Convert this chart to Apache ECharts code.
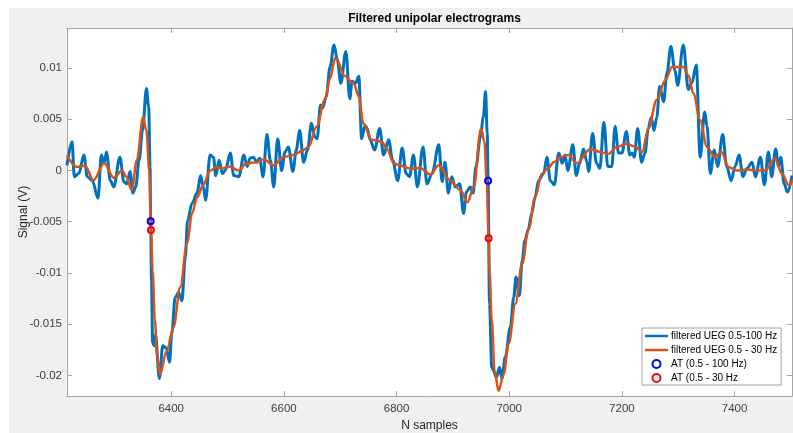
<!DOCTYPE html>
<html>
<head>
<meta charset="utf-8">
<script src="https://cdn.jsdelivr.net/npm/echarts@6/dist/echarts.min.js"></script>
<style>
html,body{margin:0;padding:0;background:#fff;}
#bg{position:absolute;left:9px;top:8px;width:784px;height:425px;background:#f0f0f0;}
#chart{position:absolute;left:0;top:0;width:793px;height:433px;}
</style>
</head>
<body>
<div id="bg"></div>
<div id="chart"></div>
<script>
// [sample, value]
const ueg100 = [[6215,0.0005],[6224,0.0028],[6228,-0.0006],[6236,-0.0003],[6245,0.0015],[6251,-0.0006],[6260,-0.001],[6270,-0.0027],[6276,0.0015],[6281,0.0007],[6285,0.0018],[6292,-0.001],[6298,-0.0016],[6309,0.0013],[6316,-0.0011],[6321,-0.0013],[6327,-0.0001],[6332,-0.0022],[6337,-0.0016],[6343,0.001],[6349,0.0039],[6356,0.008],[6360,0.0062],[6362.5,0.0003],[6363.5,-0.00496],[6365,-0.0107],[6367,-0.0168],[6370,-0.0171],[6372,-0.016],[6379,-0.0203],[6385,-0.0171],[6391,-0.0173],[6397,-0.0187],[6401,-0.0159],[6407,-0.0124],[6413,-0.0119],[6419,-0.0127],[6425,-0.0085],[6429,-0.0049],[6437,-0.0032],[6446,-0.0022],[6452,-0.0005],[6457,-0.0016],[6461,-0.0029],[6469,0.0015],[6475,0.0013],[6479,-0.0005],[6485,0.001],[6491,-0.0003],[6496,0],[6505,0.0017],[6511,-0.0005],[6520,-0.0006],[6529,0.0015],[6535,0.0004],[6540,0.0012],[6546,0.0013],[6552,0.0008],[6557,0.0012],[6563,-0.0006],[6570,0.0035],[6576,0.001],[6582,-0.0016],[6589,0.0031],[6596,0],[6602,0.0018],[6608,0.0023],[6616,-0.0001],[6622,0.002],[6628,0.0039],[6635,0.0008],[6642,0.002],[6649,0.0046],[6655,0.0033],[6659,0.0031],[6665,0.0064],[6669,0.0061],[6675,0.0072],[6682,0.0101],[6689,0.01225],[6695,0.0108],[6701,0.0085],[6710,0.0116],[6717,0.007],[6721,0.0087],[6727,0.0085],[6733,0.0092],[6738,0.0031],[6744,0.0044],[6748,0.0041],[6753,0.003],[6761,0.002],[6770,0.0041],[6777,0.0015],[6786,0.003],[6793,0.001],[6802,-0.001],[6810,0.0022],[6817,-0.0003],[6823,-0.0006],[6830,0.0015],[6837,-0.0016],[6847,0.0023],[6854,-0.0013],[6863,-0.0003],[6875,0.0025],[6881,-0.0011],[6886,0.0008],[6892,-0.0022],[6898,-0.0006],[6904,-0.0016],[6912,-0.0013],[6919,-0.0042],[6924,-0.0021],[6931,-0.0016],[6936,-0.0022],[6941,0.0004],[6949,0.0033],[6954,0.0052],[6958,0.0077],[6961,0.0036],[6962.5,-0.001],[6965,-0.013],[6969,-0.0192],[6972,-0.0195],[6977,-0.0202],[6983,-0.0192],[6987,-0.0203],[6993,-0.0182],[7002,-0.0153],[7008,-0.0124],[7012,-0.0104],[7018,-0.0122],[7023,-0.0088],[7028,-0.0068],[7034,-0.0057],[7040,-0.0042],[7046,-0.0026],[7052,-0.001],[7061,-0.0003],[7067,0.0013],[7073,-0.001],[7080,-0.0014],[7088,0.0017],[7094,0.0007],[7099,0.0015],[7104,0],[7113,0.0025],[7119,-0.0005],[7125,0.0007],[7132,0.0021],[7138,0.0008],[7141,-0.0001],[7148,0.0036],[7155,0.0007],[7161,0.0002],[7168,0.0047],[7175,0.0004],[7182,0.0004],[7188,0.0043],[7194,0.0017],[7200,0.0017],[7208,0.0038],[7214,0.0015],[7218,0.0017],[7222,0.0013],[7228,0.0041],[7235,0.0008],[7241,0.0017],[7247,0.0041],[7252,0.0052],[7257,0.0039],[7262,0.0052],[7267,0.0082],[7274,0.0067],[7280,0.0095],[7287,0.0121],[7294,0.0098],[7299,0.0083],[7309,0.01225],[7318,0.0079],[7324,0.0085],[7332,0.0103],[7339,0.0013],[7347,0.0057],[7351,0.0044],[7357,-0.0003],[7364,0.002],[7370,0.0004],[7379,0.0035],[7386,0.0004],[7394,-0.001],[7401,0.0004],[7408,0.0015],[7415,-0.0006],[7422,0.0002],[7431,0.0008],[7437,-0.0006],[7446,0.0013],[7453,-0.0014],[7460,0.0018],[7466,-0.0006],[7473,0.0021],[7478,0.0004],[7482,0.0013],[7488,-0.0013],[7494,-0.0021],[7502,-0.0005]];

const ueg30 = [[6215,0.0015],[6232,0.00035],[6247,0.00045],[6262,-0.00095],[6281,0.0007],[6298,-0.0007],[6313,0],[6320,-0.0006],[6330,-0.0019],[6339,0.001],[6350,0.0052],[6356,0.0039],[6361,0],[6364,-0.0058],[6367,-0.0098],[6371,-0.0146],[6375,-0.0181],[6380,-0.0199],[6392,-0.0176],[6404,-0.0153],[6416,-0.0114],[6428,-0.0071],[6437,-0.0042],[6446,-0.0026],[6457,-0.0014],[6469,0],[6481,0.00035],[6490,0.0002],[6505,0.0004],[6519,0],[6534,0.0007],[6552,0.0008],[6564,0.0011],[6582,0.0005],[6599,0.0013],[6617,0.0015],[6632,0.0019],[6644,0.0023],[6658,0.0043],[6673,0.0069],[6682,0.009],[6691,0.011],[6696,0.0106],[6706,0.0093],[6724,0.0085],[6733,0.0072],[6741,0.0046],[6756,0.003],[6774,0.0028],[6783,0.0021],[6795,0.0007],[6807,0.00045],[6824,0.0002],[6842,0.00025],[6860,-0.0004],[6875,0.0005],[6895,-0.00095],[6913,-0.0019],[6926,-0.0031],[6937,-0.0016],[6950,0.0041],[6956,0.0028],[6960,-0.00095],[6963.5,-0.0066],[6965,-0.0098],[6969,-0.0146],[6974,-0.0195],[6981,-0.0215],[6990,-0.0199],[6999,-0.0169],[7011,-0.013],[7023,-0.0091],[7034,-0.0058],[7046,-0.0026],[7058,-0.0003],[7069,0.0002],[7079,0.0008],[7091,0.0013],[7105,0.0015],[7120,0.0007],[7144,0.0021],[7162,0.0018],[7176,0.0016],[7191,0.0023],[7209,0.0026],[7224,0.0023],[7236,0.0018],[7247,0.0041],[7262,0.0069],[7277,0.0088],[7289,0.0101],[7309,0.0101],[7318,0.0093],[7327,0.0075],[7339,0.0049],[7351,0.0023],[7365,0.0013],[7377,0.0018],[7389,0.00035],[7404,0],[7422,0.0001],[7440,0],[7454,0],[7472,0.0012],[7484,-0.0003],[7496,-0.0014],[7504,-0.00095]];

const at100 = [[6363.5,-0.00496],[6962.5,-0.001]];
const at30 = [[6364,-0.0058],[6963.5,-0.0066]];

const xTicks = [6400, 6600, 6800, 7000, 7200, 7400];
const yTicks = [-0.02, -0.015, -0.01, -0.005, 0, 0.005, 0.01];

const names = ['filtered UEG 0.5-100 Hz', 'filtered UEG 0.5 - 30 Hz', 'AT (0.5 - 100 Hz)', 'AT (0.5 - 30 Hz'];

const FONT = 'Liberation Sans, Arial, Helvetica, sans-serif';
const axisCol = '#a6a6a6';
const labCol = '#404040';
const X_MIN = 6215, X_MAX = 7502, Y_MIN = -0.022, Y_MAX = 0.0139;
const lineIcon = 'path://M0,0H23V2.5H0Z';

const chart = echarts.init(document.getElementById('chart'), null, {renderer: 'canvas'});
chart.setOption({
  backgroundColor: 'transparent',
  animation: false,
  title: {
    text: 'Filtered unipolar electrograms',
    left: 429.5, textAlign: 'center', top: 8,
    textStyle: {fontFamily: FONT, fontSize: 12, fontWeight: 'bold', color: '#000'}
  },
  grid: {left: 67, top: 28, right: 1, bottom: 37, containLabel: false, outerBoundsMode: 'none',
         show: true, backgroundColor: '#fff', borderWidth: 0},
  legend: {
    orient: 'vertical', left: 642, top: 328,
    padding: [3, 4, 2, 3],
    itemWidth: 23, itemHeight: 8, itemGap: 4,
    backgroundColor: '#fff', borderColor: '#a0a0a0', borderWidth: 1, borderRadius: 0,
    textStyle: {fontFamily: FONT, fontSize: 10, color: '#000', lineHeight: 10, padding: [0,0,0,-2]},
    data: [
      {name: names[0], icon: lineIcon, itemStyle: {color: '#0072BD', borderWidth: 0}},
      {name: names[1], icon: lineIcon, itemStyle: {color: '#D95319', borderWidth: 0}},
      {name: names[2], icon: 'circle', itemStyle: {color: '#fff', borderColor: '#0000ff', borderWidth: 2}},
      {name: names[3], icon: 'circle', itemStyle: {color: '#fff', borderColor: '#ff0000', borderWidth: 2}}
    ]
  },
  xAxis: [{
    type: 'value', min: X_MIN, max: X_MAX, position: 'bottom',
    name: 'N samples', nameLocation: 'middle', nameGap: 24, nameMoveOverlap: false,
    nameTextStyle: {fontFamily: FONT, fontSize: 12, color: '#262626'},
    axisLine: {show: true, onZero: false, lineStyle: {color: axisCol, width: 1}},
    axisTick: {show: true, inside: true, length: 5, customValues: xTicks, lineStyle: {color: axisCol}},
    axisLabel: {customValues: xTicks, margin: 7, fontFamily: FONT, fontSize: 11.5, color: labCol, formatter: v => String(v)},
    splitLine: {show: false}
  }, {
    type: 'value', min: X_MIN, max: X_MAX, position: 'top',
    axisLine: {show: true, onZero: false, lineStyle: {color: axisCol, width: 1}},
    axisTick: {show: true, inside: true, length: 5, customValues: xTicks, lineStyle: {color: axisCol}},
    axisLabel: {show: false}, splitLine: {show: false}
  }],
  yAxis: [{
    type: 'value', min: Y_MIN, max: Y_MAX, position: 'left',
    name: 'Signal (V)', nameLocation: 'middle', nameGap: 37, nameMoveOverlap: false,
    nameTextStyle: {fontFamily: FONT, fontSize: 12, color: '#262626'},
    axisLine: {show: true, onZero: false, lineStyle: {color: axisCol, width: 1}},
    axisTick: {show: true, inside: true, length: 5, customValues: yTicks, lineStyle: {color: axisCol}},
    axisLabel: {customValues: yTicks, margin: 5, fontFamily: FONT, fontSize: 11.5, color: labCol, formatter: v => String(v)},
    splitLine: {show: false}
  }, {
    type: 'value', min: Y_MIN, max: Y_MAX, position: 'right',
    axisLine: {show: true, onZero: false, lineStyle: {color: axisCol, width: 1}},
    axisTick: {show: true, inside: true, length: 5, customValues: yTicks, lineStyle: {color: axisCol}},
    axisLabel: {show: false}, splitLine: {show: false}
  }],
  series: [{
    name: names[0], type: 'line', data: ueg100, symbol: 'none',
    smooth: 0.35, smoothMonotone: 'x', clip: true,
    lineStyle: {color: '#0072BD', width: 3}, itemStyle: {color: '#0072BD'}
  }, {
    name: names[1], type: 'line', data: ueg30, symbol: 'none',
    smooth: 0.35, smoothMonotone: 'x', clip: true,
    lineStyle: {color: '#D95319', width: 2.5}, itemStyle: {color: '#D95319'}
  }, {
    name: names[2], type: 'scatter', data: at100, symbol: 'circle', symbolSize: 6,
    itemStyle: {color: 'rgba(0,0,0,0)', borderColor: '#0000ff', borderWidth: 2, opacity: 1}, z: 5
  }, {
    name: names[3], type: 'scatter', data: at30, symbol: 'circle', symbolSize: 6,
    itemStyle: {color: 'rgba(0,0,0,0)', borderColor: '#ff0000', borderWidth: 2, opacity: 1}, z: 5
  }]
});
</script>
</body>
</html>
